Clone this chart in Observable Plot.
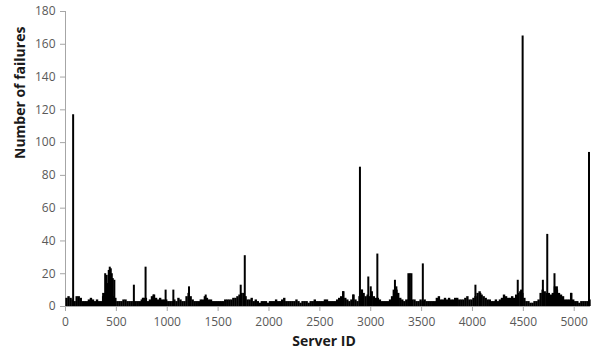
<!DOCTYPE html>
<html>
<head>
<meta charset="utf-8">
<script src="https://cdn.jsdelivr.net/npm/d3@7"></script>
<script src="https://cdn.jsdelivr.net/npm/@observablehq/plot@0.6"></script>
<style>
  html, body { margin: 0; padding: 0; background: #fff; }
  #chart svg { display: block; }
</style>
</head>
<body>
<div id="chart"></div>
<script>
// Background failure counts, one value per block of 20 server IDs (0–5160),
// grouped five blocks (100 IDs) per line.
const blockSize = 20;
const baseline = [
  5, 6, 5, 4, 3,   6, 6, 5, 3, 3,   3, 4, 5, 4, 3,   4, 3, 3, 6, 8,
  6, 6, 6, 6, 5,   3, 3, 3, 4, 4,   3, 3, 3, 3, 3,   3, 3, 4, 5, 5,
  3, 4, 6, 7, 5,   4, 5, 4, 4, 4,   3, 3, 3, 4, 3,   5, 4, 3, 3, 6,
  8, 6, 4, 3, 3,   3, 4, 4, 6, 5,   4, 4, 3, 3, 3,   3, 3, 3, 4, 4,
  4, 4, 5, 5, 6,   7, 8, 8, 6, 4,   4, 5, 3, 4, 3,   2, 3, 3, 3, 2,
  3, 3, 3, 4, 3,   3, 4, 5, 3, 3,   3, 3, 3, 4, 3,   2, 3, 3, 3, 2,
  3, 3, 4, 3, 3,   3, 3, 4, 4, 3,   3, 3, 3, 4, 5,   6, 9, 5, 4, 3,
  4, 7, 4, 3, 6,   10, 8, 6, 7, 6, 9, 6, 5, 5, 4,   3, 3, 3, 3, 4,
  6, 9, 12, 8, 5,  4, 3, 4, 4, 4,   4, 4, 3, 3, 4,   3, 4, 3, 3, 3,
  3, 3, 5, 6, 4,   4, 5, 4, 5, 4,   4, 5, 5, 4, 4,   4, 5, 6, 4, 4,
  5, 6, 8, 9, 7,   6, 5, 4, 4, 3,   3, 4, 3, 4, 5,   7, 6, 5, 5, 6,
  5, 7, 8, 9, 8,   5, 3, 3, 2, 2,   3, 3, 4, 8, 10,  9, 8, 8, 7, 8,
  12, 10, 8, 7, 6, 4, 4, 4, 8, 4,   3, 3, 2, 3, 3,   3, 3, 4
];

// Individual servers that stand out above the background.
const peakIds = [
  75, 370, 390, 405, 415, 425, 435, 445, 455, 465, 480,
  672, 760, 787, 865, 984, 1060, 1214, 1378, 1722, 1762,
  2729, 2828, 2894, 2915, 2976, 3000, 3065, 3225, 3238, 3255,
  3370, 3385, 3400, 3512, 4029, 4078, 4445, 4478, 4493,
  4692, 4735, 4806, 4830, 4970, 5145
];
const peakValues = [
  117, 8, 20, 19, 14, 22, 24, 23, 20, 17, 16,
  13, 5, 24, 7, 10, 10, 12, 7, 13, 31,
  9, 7, 85, 10, 18, 12, 32, 10, 16, 10,
  20, 20, 20, 26, 13, 8, 16, 10, 165,
  16, 44, 20, 12, 8, 94
];

const yTicks = [0, 20, 40, 60, 80, 100, 120, 140, 160, 180];
const xTicks = [0, 500, 1000, 1500, 2000, 2500, 3000, 3500, 4000, 4500, 5000];

const background = baseline.map((v, i) => ({id: i * blockSize + blockSize / 2, failures: v}));
const peaks = peakIds.map((id, i) => ({id, failures: peakValues[i]}));

const axisGray = "#a6a6a6";

const chart = Plot.plot({
  width: 597,
  height: 354,
  marginLeft: 65,
  marginRight: 7,
  marginTop: 11,
  marginBottom: 48,
  style: {fontFamily: "'Open Sans', sans-serif", fontSize: "12px", color: "#595959", background: "#fff"},
  x: {domain: [0, 5160]},
  y: {domain: [0, 180]},
  marks: [
    Plot.ruleX([0], {stroke: axisGray}),
    Plot.axisY({ticks: yTicks, tickSize: 5, tickPadding: 5, stroke: axisGray, label: null,
      tickFormat: d => String(d)}),
    Plot.axisX({ticks: xTicks, tickSize: 5, tickPadding: 6, stroke: axisGray, label: null,
      tickFormat: d => String(d)}),
    Plot.ruleY([0], {stroke: axisGray}),
    Plot.ruleX(background, {x: "id", y1: 0, y2: "failures", stroke: "#000", strokeWidth: 2.4}),
    Plot.ruleX(peaks, {x: "id", y1: 0, y2: "failures", stroke: "#000", strokeWidth: 2}),
    Plot.text(["Number of failures"], {
      frameAnchor: "left", rotate: -90, dx: -45,
      fontWeight: "bold", fontSize: 14, fill: "#1a1a1a"
    }),
    Plot.text(["Server ID"], {
      frameAnchor: "bottom", dy: 39, dx: -4,
      fontWeight: "bold", fontSize: 14, fill: "#1a1a1a"
    })
  ]
});

document.getElementById("chart").append(chart);
</script>
</body>
</html>
